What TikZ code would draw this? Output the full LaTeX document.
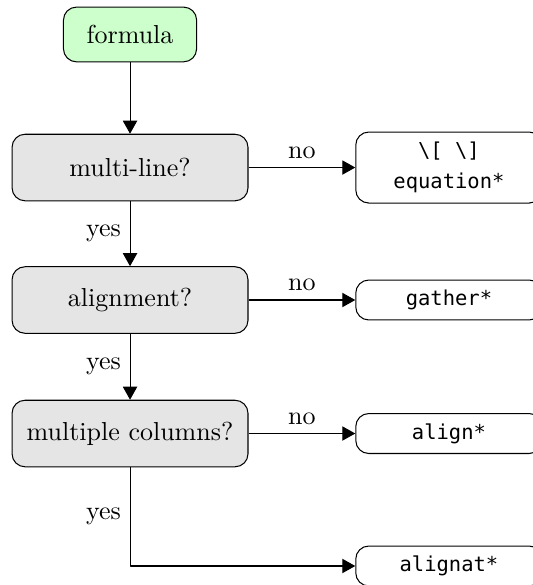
\documentclass[tikz,border=0pt]{standalone}
\usepackage{fontspec}
\setmonofont[Scale=MatchLowercase]{DejaVu Sans Mono}
\usetikzlibrary{arrows.meta}

\begin{document}
\begin{tikzpicture}[>={Triangle[length=5pt,width=5.5pt]},line join=round,
		start/.style={draw,rounded corners=5pt,fill=green!20,minimum width=1.8cm,minimum height=0.74cm},
		ask/.style={draw,rounded corners=5pt,fill=gray!20,minimum width=3.19cm,minimum height=0.9cm},
		env/.style={draw,rounded corners=5pt,minimum width=2.52cm,minimum height=0.54cm,font=\ttfamily,align=center}]
		\useasboundingbox (0,0) rectangle (7.193,-7.909);
		\node[start] (formula) at (1.758,-0.466) {formula};
		\node[ask] (multi) at (1.758,-2.265) {multi-line?};
		\node[ask] (align) at (1.758,-4.056) {alignment?};
		\node[ask] (cols) at (1.758,-5.861) {multiple columns?};
		\node[env,minimum height=0.96cm] (eqn) at (6.07,-2.265) {\textbackslash[ \textbackslash]\\equation*};
		\node[env] (gather) at (6.07,-4.056) {gather*};
		\node[env] (alignstar) at (6.07,-5.861) {align*};
		\node[env] (alignat) at (6.07,-7.652) {alignat*};
		\draw[->] (formula) -- (multi);
		\draw[->] (multi) -- node[above]{no} (eqn);
		\draw[->] (multi) -- node[left]{yes} (align);
		\draw[->] (align) -- node[above]{no} (gather);
		\draw[->] (align) -- node[left]{yes} (cols);
		\draw[->] (cols) -- node[above]{no} (alignstar);
		\draw[->] (cols) |- node[pos=.25,left]{yes} (alignat);
\end{tikzpicture}
\end{document}
